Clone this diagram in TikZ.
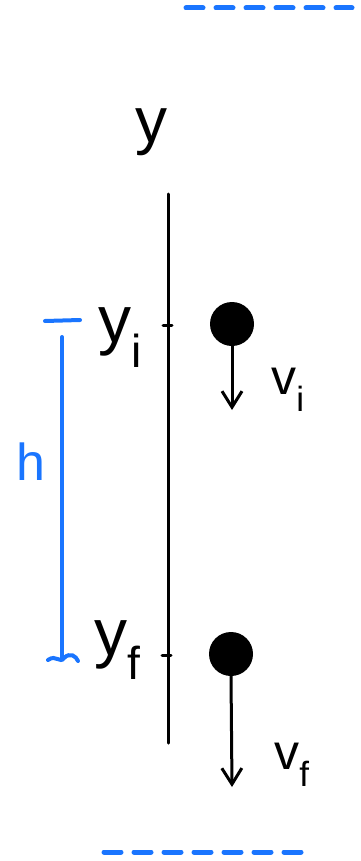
\documentclass[tikz,border=0pt]{standalone}
\usepackage{fontspec}
\setmainfont{Liberation Sans}
\usepackage{xcolor}
\definecolor{SketchBlue}{HTML}{1A75FF}
\definecolor{SketchInk}{HTML}{000000}
\usepackage{tikz}
\usetikzlibrary{arrows.meta}

\begin{document}
\begin{tikzpicture}[x=1pt,y=-1pt,
    ink/.style={draw=SketchInk,line width=3pt,line cap=round},
    level/.style={draw=SketchBlue,line width=5pt,line cap=round,dash pattern=on 17pt off 13pt},
    bracket/.style={draw=SketchBlue,line width=4pt,line cap=round},
    ball/.style={circle,fill=SketchInk,minimum size=44pt,inner sep=0pt},
    fall/.style={-{Straight Barb[length=16pt,width=20pt,line width=3pt]},ink},
    lbl/.style={font=\fontsize{50}{50}\selectfont,color=SketchInk,inner sep=0pt},
    hlbl/.style={font=\fontsize{52}{52}\selectfont,color=SketchBlue,inner sep=0pt}
  ]
    \useasboundingbox (0,0) rectangle (360,861);
    % reference levels
    \coordinate (topL) at (186,8);
    \coordinate (topR) at (352,8);
    \coordinate (botL) at (104,852);
    \coordinate (botR) at (310,852);
    \draw[level] (topL) -- (topR);
    \draw[level] (botL) -- (botR);
    % y axis
    \coordinate (axtop) at (168,194);
    \coordinate (axbot) at (168,743);
    \node[lbl,font=\fontsize{64}{64}\selectfont] (ylab) at (151,132) {y};
    \draw[ink] (axtop) -- (axbot);
    \coordinate (ticki) at (168,325);
    \coordinate (tickf) at (168,655);
    \draw[ink] ([xshift=-5pt]ticki) -- ([xshift=4pt]ticki);
    \draw[ink] ([xshift=-6pt]tickf) -- ([xshift=3pt]tickf);
    \node[lbl,font=\fontsize{66}{66}\selectfont] (yi) at (120,338) {y\textsubscript{i}};
    \node[lbl,font=\fontsize{66}{66}\selectfont] (yf) at (118,650) {y\textsubscript{f}};
    % balls and velocities
    \node[ball] (balli) at (232,324) {};
    \node[ball] (ballf) at (231,654) {};
    \coordinate (vitip) at (232,410);
    \coordinate (vftip) at (232,787);
    \draw[fall] (balli.south) -- (vitip);
    \draw[fall] (ballf.south) -- (vftip);
    \node[lbl] (vi) at (288,390) {v\textsubscript{i}};
    \node[lbl] (vf) at (292,765) {v\textsubscript{f}};
    % height bracket
    \coordinate (htopL) at (45,321);
    \coordinate (htopR) at (80,320);
    \coordinate (hlinetop) at (62,337);
    \coordinate (hlinebot) at (62,658);
    \draw[bracket] (htopL) -- (htopR);
    \draw[bracket] (hlinetop) -- (hlinebot);
    \draw[bracket] (48,660) .. controls (56,654) and (60,664) .. (64,658) .. controls (70,652) and (76,656) .. (78,661);
    \node[hlbl] (h) at (31,462) {h};
  \end{tikzpicture}
\end{document}
